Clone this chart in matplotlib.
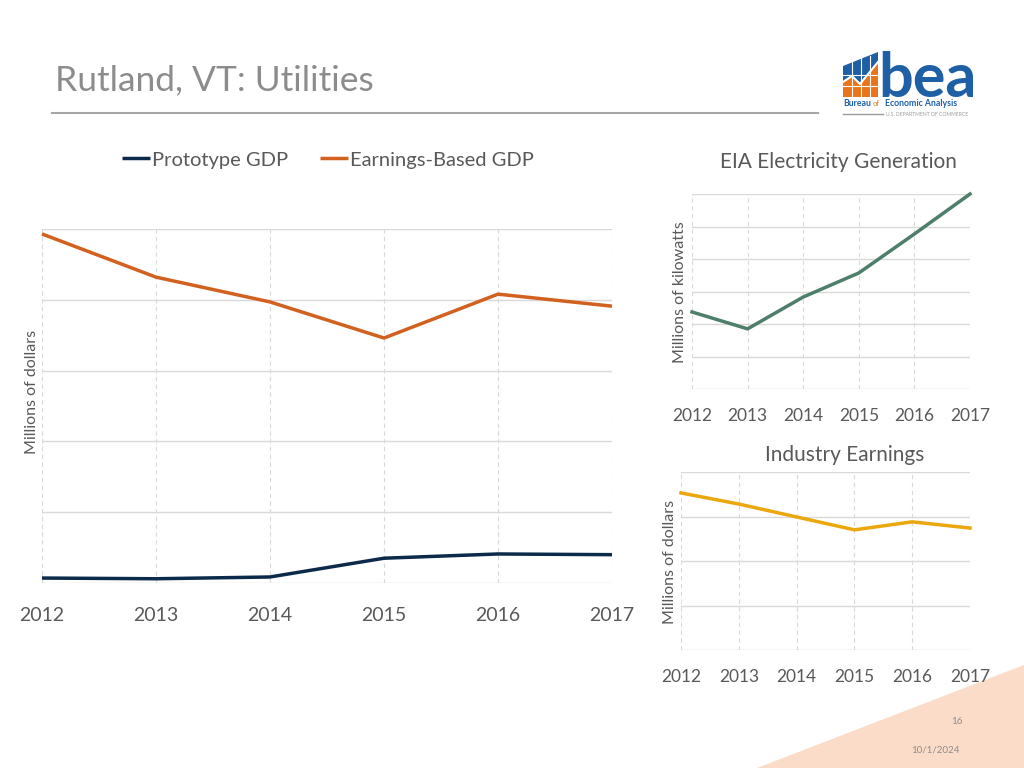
import matplotlib.pyplot as plt
from matplotlib.patches import Polygon

plt.rcParams['font.family'] = ['Lato', 'DejaVu Sans']

years = ['2012', '2013', '2014', '2015', '2016', '2017']
# main chart (no numeric scale shown, values read in grid units)
prototype_gdp = [0.07, 0.06, 0.085, 0.35, 0.41, 0.40]
earnings_gdp = [4.93, 4.32, 3.97, 3.46, 4.08, 3.91]
# small charts
eia_generation = [2.37, 1.85, 2.83, 3.57, 4.77, 6.0]
industry_earnings = [3.53, 3.28, 2.99, 2.70, 2.88, 2.74]

W, H = 1024, 768
fig = plt.figure(figsize=(10.24, 7.68), dpi=100)

def px_axes(left, top, right, bottom, **kw):
    return fig.add_axes([left / W, 1 - bottom / H, (right - left) / W, (bottom - top) / H], **kw)

# background decorations in pixel coords
bg = px_axes(0, 0, W, H)
bg.set_xlim(0, W)
bg.set_ylim(H, 0)
bg.axis('off')
bg.add_patch(Polygon([(757, 768), (1024, 665), (1024, 768)], closed=True, color='#fbdcc8', lw=0))
bg.text(55, 80, 'Rutland, VT: Utilities', fontsize=25.5, color='#8c8c8c', va='center', ha='left')
bg.plot([52, 818], [113, 113], color='#a6a6a6', lw=1.5)
bg.text(957, 721, '16', fontsize=7, color='#8c8c8c', ha='center', va='center')
bg.text(935, 750, '10/1/2024', fontsize=7, color='#8c8c8c', ha='center', va='center')

# BEA logo (simplified)
bg.add_patch(Polygon([(843, 97), (843, 66), (878, 52), (878, 97)], closed=True, color='#1f5fa6', lw=0))
bg.add_patch(Polygon([(843, 97), (843, 82), (852, 76), (860, 84), (878, 62), (878, 97)],
                     closed=True, color='#e8751a', lw=0))
for gx in [852, 861, 870]:
    bg.plot([gx, gx], [56, 97], color='white', lw=0.8)
for gy in [75, 86]:
    bg.plot([843, 878], [gy, gy], color='white', lw=0.8)
bg.plot([843, 852, 860, 878], [82, 76, 84, 62], color='white', lw=1.5)
bg.text(878, 97, 'bea', fontsize=44, fontweight='bold', color='#1f5fa6', ha='left', va='baseline')
bg.text(843, 103, 'Bureau', fontsize=6.3, fontweight='bold', color='#1f5fa6', ha='left', va='center')
bg.text(873, 103, 'of', fontsize=5.5, color='#e8751a', ha='left', va='center')
bg.text(885, 103, 'Economic Analysis', fontsize=6.3, fontweight='bold', color='#1f5fa6', ha='left', va='center')
bg.plot([843, 883], [114, 114], color='#9a9a9a', lw=1)
bg.text(886, 114.5, 'U.S. DEPARTMENT OF COMMERCE', fontsize=3.6, color='#9a9a9a', ha='left', va='center')

text_col = '#595959'
grid_col = '#d9d9d9'

def style(ax, n_grid, ticksize, pad):
    x = range(len(years))
    ax.set_xlim(0, len(years) - 1)
    ax.set_ylim(0, n_grid)
    ax.set_xticks(list(x))
    ax.set_xticklabels(years)
    ax.set_yticks(range(n_grid + 1))
    ax.set_yticklabels([])
    ax.tick_params(axis='both', length=0, labelsize=ticksize, colors=text_col, pad=pad)
    for s in ax.spines.values():
        s.set_visible(False)
    ax.grid(axis='y', color=grid_col, lw=1)
    ax.grid(axis='x', color=grid_col, lw=0.8, ls=(0, (4, 3)))
    ax.set_axisbelow(True)
    ax.patch.set_alpha(0)

# main chart
ax = px_axes(42, 229, 612, 583)
style(ax, 5, 14, 17)
x = range(len(years))
l1, = ax.plot(x, prototype_gdp, color='#0c2a4a', lw=2.5, clip_on=False, solid_capstyle='butt')
l2, = ax.plot(x, earnings_gdp, color='#d2601f', lw=2.5, clip_on=False, solid_capstyle='butt')
fig.legend([l1, l2], ['Prototype GDP', 'Earnings-Based GDP'], loc='center',
           bbox_to_anchor=(328 / W, 1 - 160 / H), ncol=2, frameon=False,
           fontsize=14.5, handlelength=1.4, handletextpad=0.1, columnspacing=1.55,
           labelcolor=text_col)
fig.text(32 / W, 1 - 392 / H, 'Millions of dollars', rotation=90, fontsize=11.5,
         color=text_col, ha='center', va='center')

# EIA electricity generation
ax2 = px_axes(692, 194, 970, 389)
style(ax2, 6, 12.5, 14)
ax2.plot(x, eia_generation, color='#4e7f6a', lw=2.5, clip_on=False)
fig.text(838 / W, 1 - 162 / H, 'EIA Electricity Generation', fontsize=15,
         color=text_col, ha='center', va='center')
fig.text(680 / W, 1 - 292 / H, 'Millions of kilowatts', rotation=90, fontsize=11.5,
         color=text_col, ha='center', va='center')

# Industry earnings
ax3 = px_axes(681, 472, 970, 650)
style(ax3, 4, 12.5, 14)
ax3.plot(x, industry_earnings, color='#eaa80e', lw=2.5, clip_on=False)
fig.text(845 / W, 1 - 455 / H, 'Industry Earnings', fontsize=15,
         color=text_col, ha='center', va='center')
fig.text(670 / W, 1 - 562 / H, 'Millions of dollars', rotation=90, fontsize=11.5,
         color=text_col, ha='center', va='center')

fig.savefig('out.png', dpi=100)
